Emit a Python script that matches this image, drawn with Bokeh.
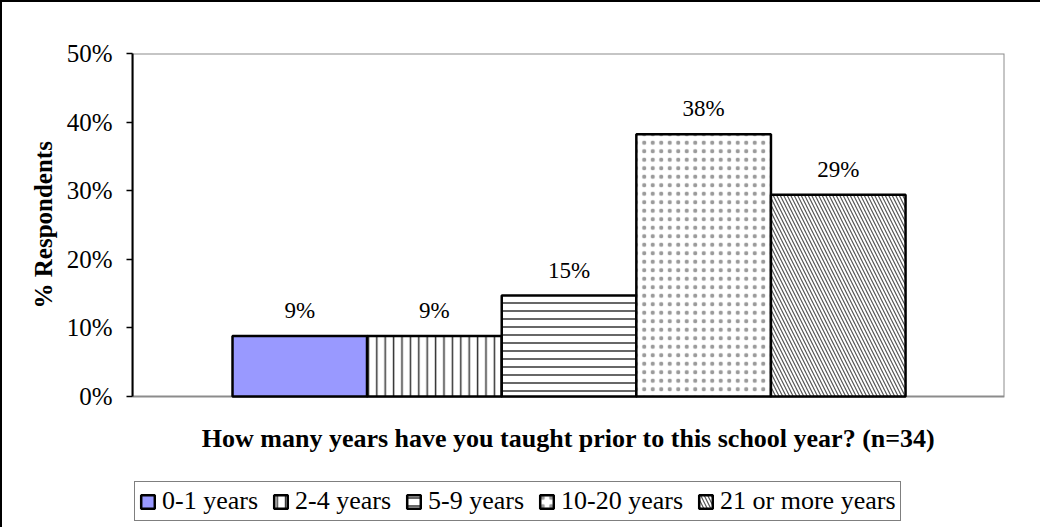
from bokeh.plotting import figure
from bokeh.models import (Range1d, Legend, LegendItem, ColumnDataSource, FixedTicker,
                          BoxAnnotation, Label, Title)
from bokeh.core.properties import value
from bokeh.embed import file_html
from bokeh.resources import INLINE

# ---- data ----
categories = ["0-1 years", "2-4 years", "5-9 years", "10-20 years", "21 or more years"]
percents = [8.82, 8.82, 14.71, 38.24, 29.41]
value_labels = [f"{round(v)}%" for v in percents]
y_ticks = [0, 10, 20, 30, 40, 50]
y_tick_labels = ["0%", "10%", "20%", "30%", "40%", "50%"]
x_title = "How many years have you taught prior to this school year? (n=34)"
y_title = "% Respondents"

# ---- styles ----
fills = ["#9999FF", "white", "white", "white", "white"]
hatches = [None, "vertical_line", "horizontal_line", "dot", "left_diagonal_line"]
hatch_scales = [8, 8.4, 8, 8.5, 7]
hatch_weights = [1, 1.5, 1.5, 0.6, 1.2]
hatch_colors = ["black", "#333333", "#333333", "#9a9a9a", "#555555"]
FONT = "Liberation Serif"

W, H = 1040, 527
TOP, LEFT, RIGHT = 51, 130, 38
ZERO_Y = 394            # canvas pixel row of the 0% line
Y_MAX = 50
px_per_unit = (ZERO_Y - TOP) / Y_MAX
y_start = -(H - ZERO_Y) / px_per_unit
y_title_start = 306     # canvas row where the rotated y title begins (its bottom)

xs = list(range(len(categories)))
x_lo, x_hi = -1.243, len(categories) - 1 + 0.5 + 0.735

p = figure(width=W, height=H, output_backend="svg", toolbar_location=None,
           x_range=Range1d(x_lo, x_hi),
           y_range=Range1d(y_start, Y_MAX),
           min_border_left=LEFT, min_border_top=TOP, min_border_right=RIGHT, min_border_bottom=0,
           background_fill_color="white", border_fill_color="white")
p.styles = {"border-top": "2px solid black", "border-left": "2px solid black"}

p.outline_line_color = None
p.xgrid.visible = False
p.ygrid.visible = False
p.xaxis.visible = False

# plot-area border (gray) spanning 0..50%
p.add_layout(BoxAnnotation(bottom=0, top=Y_MAX, fill_alpha=0, line_color="#8c8c8c",
                           line_alpha=1.0, line_width=2, level="underlay"))

renderers = []
for i, c in enumerate(categories):
    src = ColumnDataSource(dict(x=[xs[i]], top=[percents[i]]))
    kw = dict(fill_color=fills[i], line_color="black", line_width=2.5)
    if hatches[i] is not None:
        kw.update(hatch_pattern=hatches[i], hatch_scale=hatch_scales[i],
                  hatch_weight=hatch_weights[i], hatch_color=hatch_colors[i])
    r = p.vbar(x="x", top="top", bottom=0, width=1.0, source=src, **kw)
    renderers.append(r)

p.text(x=xs, y=percents, text=value_labels, text_align="center", text_baseline="bottom",
       y_offset=-13, text_font=value(FONT), text_font_size="23px", text_color="black")

# y axis
ya = p.yaxis[0]
ya.bounds = (0, Y_MAX)
ya.ticker = FixedTicker(ticks=y_ticks)
ya.major_label_overrides = {t: l for t, l in zip(y_ticks, y_tick_labels)}
ya.major_label_text_font = FONT
ya.major_label_text_font_size = "25px"
ya.major_label_text_color = "black"
ya.major_tick_out = 6
ya.major_tick_in = 0
ya.minor_tick_out = 0
ya.minor_tick_in = 0
ya.major_label_standoff = 14
ya.axis_line_color = "black"
ya.axis_line_width = 2
ya.major_tick_line_color = "black"
ya.major_tick_line_width = 1.5

# y axis title (as a left-side title so it can sit on the 0..50% span)
p.add_layout(Title(text=y_title, align="left", offset=H - y_title_start,
                   text_font=FONT, text_font_size="25px", text_font_style="bold",
                   text_color="black", standoff=14), "left")

# x axis title
p.add_layout(Label(x=(x_lo + x_hi) / 2, y=0, y_offset=-42, text=x_title,
                   text_align="center", text_baseline="middle",
                   text_font=FONT, text_font_size="26px", text_font_style="bold",
                   text_color="black"))

legend = Legend(items=[LegendItem(label=c, renderers=[r]) for c, r in zip(categories, renderers)],
                orientation="horizontal", location=(2, 8), margin=0,
                padding=4, spacing=14, label_standoff=6, glyph_width=17, glyph_height=17,
                label_text_font=FONT, label_text_font_size="26px", label_text_color="black",
                border_line_color="black", border_line_width=1.5,
                background_fill_color="white", background_fill_alpha=1.0)
p.add_layout(legend, "center")

open("out.html", "w").write(file_html(p, INLINE))
